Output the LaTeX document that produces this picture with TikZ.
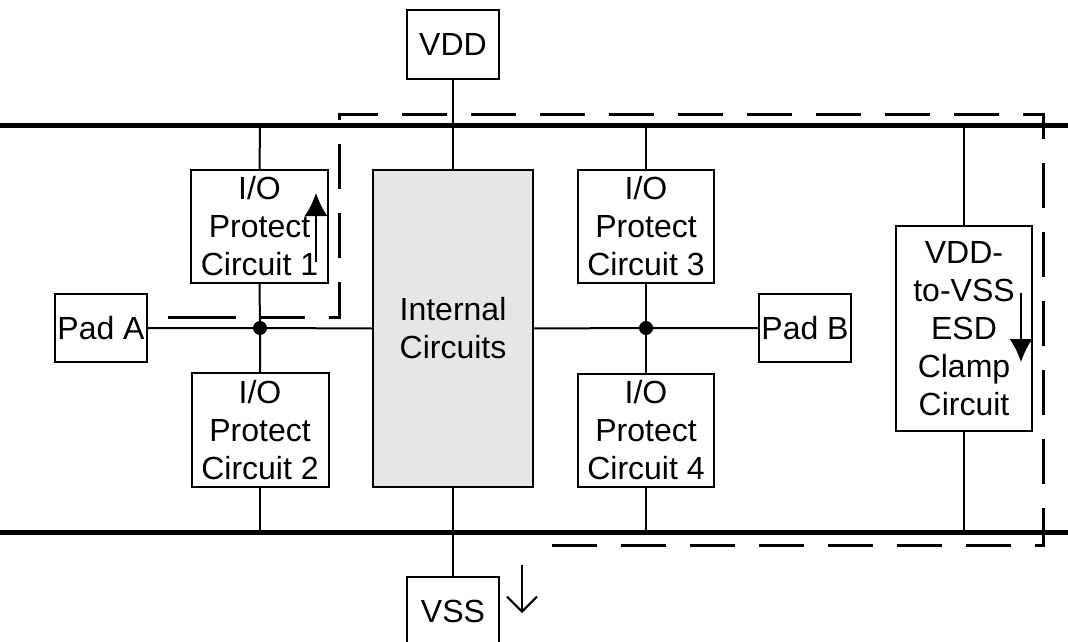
\documentclass[tikz,border=0pt]{standalone}
\usepackage{fontspec}
\setmainfont{Liberation Sans}
\usetikzlibrary{arrows.meta}
\definecolor{icgray}{HTML}{E6E6E6}
\begin{document}
\begin{tikzpicture}[x=1pt,y=-1pt,
  box/.style={draw,line width=2pt,inner sep=0pt,outer sep=0pt,align=center,
    font=\fontsize{32}{38}\selectfont,fill=white},
  wire/.style={line width=2pt},
  rail/.style={line width=5pt},
  dashline/.style={line width=3pt,dash pattern=on 45pt off 24pt,dash phase=46pt},
  bigarrow/.style={line width=2pt,-{Latex[length=23pt,width=23pt]}},
  openarrow/.style={line width=2pt,-{Straight Barb[length=15pt,width=30pt,line width=2pt]}},
  dot/.style={circle,fill=black,inner sep=0pt,minimum size=14pt}]
\useasboundingbox (0,0) rectangle (1068,642);

% nodes
\node[box,minimum width=92pt,minimum height=69pt] (vdd) at (453,44.5) {VDD};
\node[box,minimum width=92pt,minimum height=69pt] (vss) at (453,611.5) {VSS};
\node[box,fill=icgray,minimum width=160pt,minimum height=317pt] (int) at (453,328.5) {Internal\\Circuits};
\node[box,minimum width=137pt,minimum height=113pt] (p1) at (259.5,226.5) {I/O\\Protect\\Circuit 1};
\node[box,minimum width=137pt,minimum height=114pt] (p2) at (260,430) {I/O\\Protect\\Circuit 2};
\node[box,minimum width=136pt,minimum height=113pt] (p3) at (646,226.5) {I/O\\Protect\\Circuit 3};
\node[box,minimum width=136pt,minimum height=113pt] (p4) at (646,430.5) {I/O\\Protect\\Circuit 4};
\node[box,minimum width=92pt,minimum height=68pt] (pada) at (101,328) {Pad A};
\node[box,minimum width=92pt,minimum height=68pt] (padb) at (805,328) {Pad B};
\node[box,minimum width=136pt,minimum height=205pt] (clamp) at (964,328.5) {VDD-\\to-VSS\\ESD\\Clamp\\Circuit};

% rail coordinates
\coordinate (vddL) at (0,125);
\coordinate (vddR) at (1068,125);
\coordinate (vssL) at (0,532);
\coordinate (vssR) at (1068,532);
\coordinate (t1) at (260,125);
\coordinate (b2) at (260,532);
\coordinate (t3) at (646,125);
\coordinate (b4) at (646,532);
\coordinate (tc) at (964,125);
\coordinate (bc) at (964,532);
\coordinate (J1) at (260,328);
\coordinate (J2) at (646,328);

% rails
\draw[rail] (vddL) -- (vddR);
\draw[rail] (vssL) -- (vssR);

% wires
\draw[wire] (vdd.south) -- (int.north);
\draw[wire] (int.south) -- (vss.north);
\draw[wire] (pada.east) -- (J1) -- (int.west);
\draw[wire] (t1) -- (p1.north);
\draw[wire] (p1.south) -- (J1) -- (p2.north);
\draw[wire] (p2.south) -- (b2);
\draw[wire] (int.east) -- (J2) -- (padb.west);
\draw[wire] (t3) -- (p3.north);
\draw[wire] (p3.south) -- (J2) -- (p4.north);
\draw[wire] (p4.south) -- (b4);
\draw[wire] (tc) -- (clamp.north);
\draw[wire] (clamp.south) -- (bc);

\node[dot] at (J1) {};
\node[dot] at (J2) {};

% dashed ESD path
\coordinate (d0) at (168,317);
\coordinate (d1) at (339,317);
\coordinate (d2) at (339,114);
\coordinate (d3) at (1043,114);
\coordinate (d4) at (1043,545);
\coordinate (d5) at (548,545);
\draw[dashline] (d0) -- (d1) -- (d2) -- (d3) -- (d4) -- (d5);
\draw[line width=3pt] (d0) -- ++(23,0);

% arrows
\draw[bigarrow] (316,262) -- (316,193);
\draw[bigarrow] (1021,293) -- (1021,362);
\draw[openarrow] (522,565) -- (522,613);
\end{tikzpicture}
\end{document}
